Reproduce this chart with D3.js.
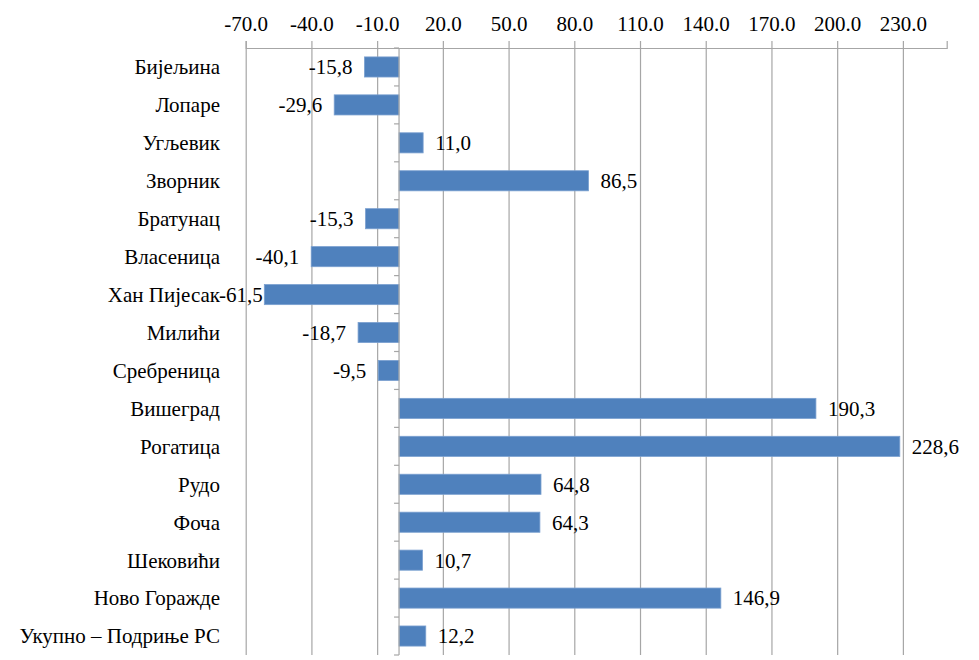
<!DOCTYPE html>
<html>
<head>
<meta charset="utf-8">
<script src="https://cdn.jsdelivr.net/npm/d3@7"></script>
</head>
<body style="margin:0;background:#fff">
<script>
// categories and values (percent change)
var categories = ["Бијељина", "Лопаре", "Угљевик", "Зворник", "Братунац", "Власеница",
    "Хан Пијесак", "Милићи", "Сребреница", "Вишеград", "Рогатица", "Рудо", "Фоча",
    "Шековићи", "Ново Горажде", "Укупно – Подриње РС"];
var values = [-15.8, -29.6, 11.0, 86.5, -15.3, -40.1, -61.5, -18.7, -9.5, 190.3, 228.6,
    64.8, 64.3, 10.7, 146.9, 12.2];
var tickValues = [-70, -40, -10, 20, 50, 80, 110, 140, 170, 200, 230];

var FONT = "'Liberation Serif'";
var FSIZE = 21;
var width = 979, height = 660;
var margin = {top: 48, left: 245.7, right: 32.3, bottom: 5};

var svg = d3.select("body").append("svg")
    .attr("width", width)
    .attr("height", height);

//apply serif font to a text selection
function serif(sel) {
    sel.attr("font-family", FONT)
        .attr("font-size", FSIZE)
        .style("font-family", FONT)
        .style("font-size", FSIZE + "px");
}

//Scales
var x = d3.scaleLinear()
    .domain([-70, 250])
    .range([margin.left, width - margin.right]);

var y = d3.scaleBand()
    .domain(categories)
    .range([margin.top, height - margin.bottom])
    .paddingInner(0.47)
    .paddingOuter(0.235);

var bandStep = y.step();

//Vertical gridlines
svg.append("g").selectAll("line")
    .data(tickValues)
    .enter().append("line")
    .attr("x1", function (d) { return x(d) + 0.5 })
    .attr("x2", function (d) { return x(d) + 0.5 })
    .attr("y1", margin.top)
    .attr("y2", height - margin.bottom)
    .attr("stroke", "#a6a6a6")
    .attr("stroke-width", 1.2);

//Top axis
var xAxis = d3.axisTop(x)
    .tickValues(tickValues)
    .tickSize(7)
    .tickPadding(10)
    .tickFormat(function (d) { return d3.format(".1f")(d).replace("−", "-") });

var axisG = svg.append("g")
    .attr("transform", "translate(0," + margin.top + ")")
    .call(xAxis);
axisG.select(".domain").attr("stroke", "#a6a6a6").attr("stroke-width", 1.2);
axisG.selectAll(".tick line").attr("stroke", "#a6a6a6").attr("stroke-width", 1.2);
axisG.selectAll(".tick text")
    .attr("fill", "#000")
    .call(serif);

//Bars
svg.append("g").selectAll("rect")
    .data(values)
    .enter().append("rect")
    .attr("x", function (d) { return x(Math.min(0, d)) })
    .attr("width", function (d) { return Math.abs(x(d) - x(0)) })
    .attr("y", function (d, i) { return y(categories[i]) })
    .attr("height", y.bandwidth())
    .attr("fill", "#4f81bd")
    .attr("stroke", "#7aa0d0")
    .attr("stroke-width", 0.8);

//Zero axis with category ticks
var zeroG = svg.append("g");
zeroG.append("line")
    .attr("x1", x(0)).attr("x2", x(0))
    .attr("y1", margin.top).attr("y2", height - margin.bottom)
    .attr("stroke", "#a6a6a6")
    .attr("stroke-width", 1.2);
zeroG.selectAll(".ctick")
    .data(d3.range(categories.length + 1))
    .enter().append("line")
    .attr("class", "ctick")
    .attr("x1", x(0) - 5).attr("x2", x(0))
    .attr("y1", function (i) { return margin.top + i * bandStep })
    .attr("y2", function (i) { return margin.top + i * bandStep })
    .attr("stroke", "#a6a6a6")
    .attr("stroke-width", 1.2);

//Category labels
svg.append("g").selectAll("text")
    .data(categories)
    .enter().append("text")
    .attr("x", 220)
    .attr("y", function (d) { return y(d) + y.bandwidth() / 2 })
    .attr("dy", "0.35em")
    .attr("text-anchor", "end")
    .call(serif)
    .text(function (d) { return d });

//Value labels (comma decimal)
var fmt = function (d) { return d3.format(".1f")(d).replace("−", "-").replace(".", ",") };
svg.append("g").selectAll("text")
    .data(values)
    .enter().append("text")
    .attr("y", function (d, i) { return y(categories[i]) + y.bandwidth() / 2 })
    .attr("dy", "0.35em")
    .call(serif)
    .text(fmt)
    .each(function (d) {
        var t = d3.select(this);
        if (d >= 0) {
            t.attr("x", x(d) + 12).attr("text-anchor", "start");
        } else {
            //keep label inside the chart area, like the original
            var w = this.getComputedTextLength();
            var left = Math.max(x(d) - 12 - w, 219);
            t.attr("x", left).attr("text-anchor", "start");
        }
    });
</script>
</body>
</html>
